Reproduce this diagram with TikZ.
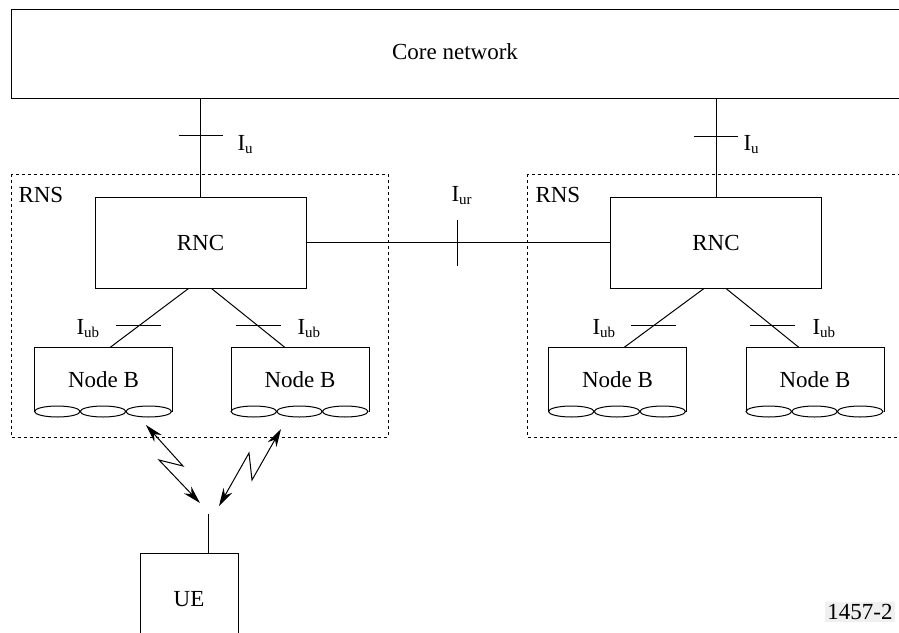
\documentclass[tikz,border=0pt]{standalone}
\usepackage{fontspec}
\setmainfont{Liberation Serif}
\usetikzlibrary{arrows.meta}
\newcommand{\ifname}[2]{#1\raisebox{-0.35ex}{\fontsize{15}{15}\selectfont #2}}

\begin{document}
\begin{tikzpicture}[x=1pt,y=-1pt,line width=1pt,
    font=\fontsize{23}{28}\selectfont,
    box/.style={draw,rectangle,inner sep=0pt},
    nodeb/.style={rectangle,inner sep=0pt,minimum width=137,minimum height=63},
    rns/.style={draw,dash pattern=on 3pt off 3pt},
    lbl/.style={anchor=base west,inner sep=0pt},
    radio/.style={{Stealth[length=18pt,width=10pt]}-{Stealth[length=18pt,width=10pt]}}]
  \useasboundingbox (0,0) rectangle (899,632);
  \clip (0,0) rectangle (899,632);

  % core network
  \node[box,minimum width=900,minimum height=89] (core) at (461,53.5) {};
  \node (corelbl) at (455,52) {Core network};

  % RNS areas
  \draw[rns] (11,174) rectangle (388,437);
  \draw[rns] (527,174) rectangle (910,437);
  \node[lbl] (rnsL) at (18,202) {RNS};
  \node[lbl] (rnsR) at (535,202) {RNS};

  % RNCs
  \begin{scope}[every node/.style={box,minimum width=211,minimum height=91}]
    \node (rncL) at (200.5,242.5) {RNC};
    \node (rncR) at (716,242.5) {RNC};
  \end{scope}

  % Node Bs
  \begin{scope}[every node/.style={nodeb}]
    \node (nbA) at (103.5,379.5) {Node B};
    \node (nbB) at (300,379.5) {Node B};
    \node (nbC) at (617.5,379.5) {Node B};
    \node (nbD) at (815,379.5) {Node B};
  \end{scope}
  \foreach \n in {nbA,nbB,nbC,nbD}{
    \draw (\n.south west) |- (\n.north east) -- (\n.south east);
    \foreach \k in {0,1,2}
      \draw ([xshift={(22.8+45.7*\k)*1pt}]\n.south west) ellipse (22.8 and 5.5);
  }

  % Iu
  \draw (rncL.north) -- coordinate[pos=0.62] (iuL) (rncL.north |- core.south);
  \draw (rncR.north) -- coordinate[pos=0.61] (iuR) (rncR.north |- core.south);
  \draw ([xshift=-22pt]iuL) -- ([xshift=22pt]iuL);
  \draw ([xshift=-22pt]iuR) -- ([xshift=22pt]iuR);
  \node[lbl] (iuLlbl) at (237,150) {\ifname{I}{u}};
  \node[lbl] (iuRlbl) at (743,150) {\ifname{I}{u}};

  % Iur
  \draw (rncL.east) -- coordinate[pos=0.498] (iur) (rncR.west);
  \draw ([yshift=-23pt]iur) -- ([yshift=23pt]iur);
  \node[lbl] (iurlbl) at (451,201) {\ifname{I}{ur}};

  % Iub
  \draw ([xshift=-12pt]rncL.south) -- coordinate[pos=0.633] (iubA) ([xshift=6.5pt]nbA.north);
  \draw ([xshift=11pt]rncL.south) -- coordinate[pos=0.633] (iubB) ([xshift=-15pt]nbB.north);
  \draw ([xshift=-12pt]rncR.south) -- coordinate[pos=0.633] (iubC) ([xshift=6.5pt]nbC.north);
  \draw ([xshift=10pt]rncR.south) -- coordinate[pos=0.633] (iubD) ([xshift=-16pt]nbD.north);
  \foreach \t in {iubA,iubB,iubC,iubD}
    \draw ([xshift=-22.5pt]\t) -- ([xshift=22.5pt]\t);
  \node[lbl] (iubAlbl) at (76,334) {\ifname{I}{ub}};
  \node[lbl] (iubBlbl) at (297,334) {\ifname{I}{ub}};
  \node[lbl] (iubClbl) at (592,334) {\ifname{I}{ub}};
  \node[lbl] (iubDlbl) at (812,334) {\ifname{I}{ub}};

  % UE and radio links
  \node[box,minimum width=98,minimum height=92] (ue) at (189,599) {UE};
  \coordinate (ant) at (208,514);
  \draw (ue.north -| ant) -- (ant);
  \coordinate (rA) at (146,425);
  \coordinate (rB) at (281,429);
  \coordinate (uA) at (200,503);
  \coordinate (uB) at (219,506);
  \draw[radio] (rA) -- (183,466) -- (159,460) -- (uA);
  \draw[radio] (rB) -- (252,480) -- (249,453) -- (uB);

  % figure number
  \node[fill=gray!12,inner sep=2pt] (fig) at (860,612) {1457-2};
\end{tikzpicture}
\end{document}
